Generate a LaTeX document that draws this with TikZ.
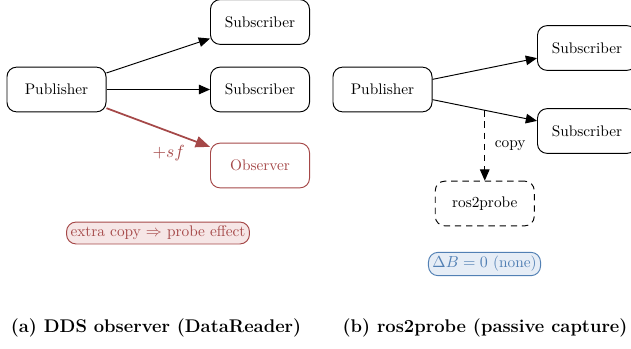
\documentclass[tikz,border=0pt]{standalone}
\usepackage{amsmath,amssymb}
\usepackage{tikz}
\usetikzlibrary{arrows.meta,calc}
\definecolor{obsred}{RGB}{165,72,72}
\definecolor{obsredfill}{RGB}{246,230,230}
\definecolor{nonblue}{RGB}{82,128,180}
\definecolor{nonbluefill}{RGB}{230,237,246}
\newcommand*\boxwd{62pt}
\newcommand*\boxht{28pt}
\tikzset{
    entity/.style   = {draw,rounded corners=6pt,
                      minimum width=\boxwd, minimum height=\boxht,
                      inner sep=2pt, line width=0.6pt,
                      font=\fontsize{9.6}{11}\selectfont},
    obsentity/.style = {entity,draw=obsred,text=obsred},
    probeentity/.style = {entity,dashed,dash pattern=on 4pt off 3pt},
    flow/.style     = {-{Triangle[length=7pt,width=6pt]},line width=0.6pt},
    obsflow/.style  = {-{Triangle[length=9pt,width=7pt]},line width=1.1pt,draw=obsred},
    tapflow/.style  = {flow,dashed,dash pattern=on 4pt off 3pt},
    badnote/.style  = {draw=obsred,fill=obsredfill,text=obsred,
                      rounded corners=6pt, inner sep=2.5pt, line width=0.6pt,
                      font=\fontsize{9.6}{11}\selectfont},
    goodnote/.style = {draw=nonblue,fill=nonbluefill,text=nonblue,
                      rounded corners=6pt, inner sep=2.5pt, line width=0.6pt,
                      font=\fontsize{9.6}{11}\selectfont},
    caption/.style  = {font=\fontsize{11.5}{13}\selectfont\bfseries},
  }
\begin{document}
\begin{tikzpicture}[x=0.626pt,y=-0.626pt]
        \useasboundingbox (0,0) rectangle (631,348);

        % (a) DDS observer
        \node[entity]    (pubA)    at (56.5,89.5) {Publisher};
        \node[entity]    (subAone) at (260,22)    {Subscriber};
        \node[entity]    (subAtwo) at (260,89.5)  {Subscriber};
        \node[obsentity] (obsA)    at (260,165.5) {Observer};

        \draw[flow] (pubA) -- (subAone);
        \draw[flow] (pubA) -- (subAtwo);
        \draw[obsflow] (pubA) -- node[pos=0.78,anchor=north east,inner sep=1pt,yshift=-3pt,text=obsred,font=\fontsize{11}{13}\selectfont] (costA) {$+sf$} (obsA);

        \node[badnote] (noteA) at (158,233) {extra copy $\Rightarrow$ probe effect};

        % (b) ros2probe
        \node[entity]      (pubB)    at (382.5,89.5) {Publisher};
        \node[entity]      (subBone) at (587,48)     {Subscriber};
        \node[entity]      (subBtwo) at (587,131)    {Subscriber};
        \node[probeentity] (probeB)  at (484.75,203.5) {ros2probe};

        \draw[flow] (pubB) -- (subBone);
        \draw[flow] (pubB) -- (subBtwo);
        \coordinate (tapB) at ($(pubB)!0.5!(subBtwo)$);
        \draw[tapflow] (tapB) -- node[right,inner sep=6pt,font=\fontsize{9.6}{11}\selectfont] (copyB) {copy} (probeB);

        \node[goodnote] (noteB) at (484.5,264) {$\Delta B = 0$ (none)};

        % captions
        \node[caption] (capA) at (156,328) {(a) DDS observer (DataReader)};
        \node[caption] (capB) at (485,328) {(b) ros2probe (passive capture)};
    \end{tikzpicture}
\end{document}
